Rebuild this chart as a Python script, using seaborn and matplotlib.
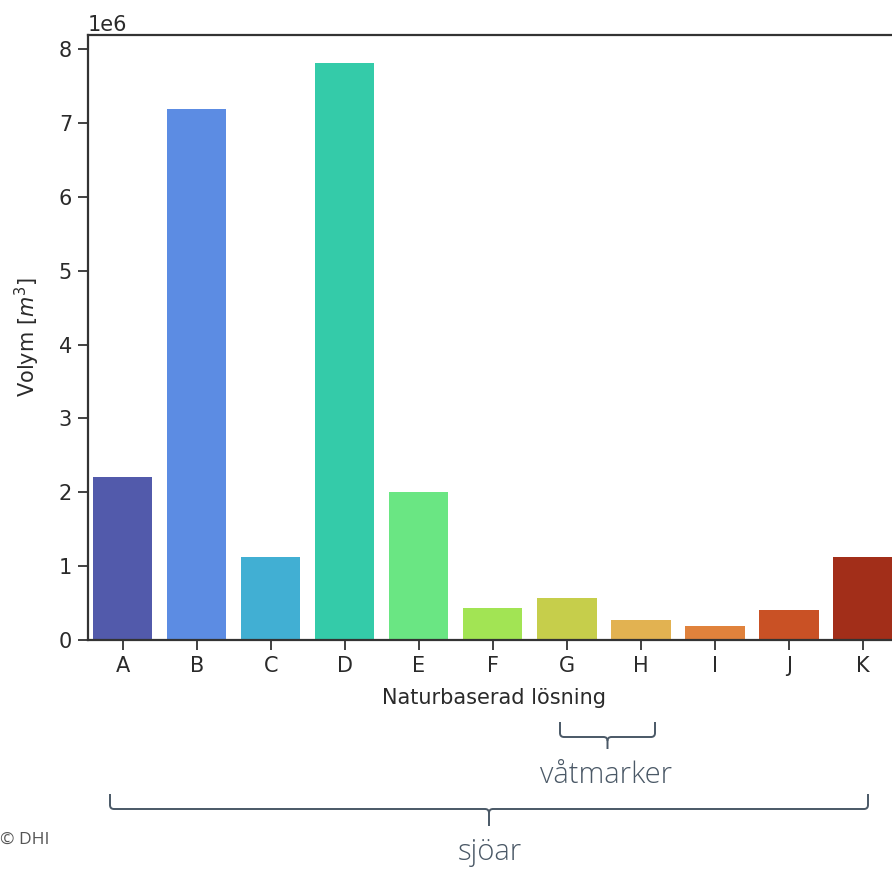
import matplotlib
matplotlib.use("Agg")
import matplotlib.pyplot as plt
import seaborn as sns
import pandas as pd
from matplotlib.path import Path
from matplotlib.patches import PathPatch

categories = ["A", "B", "C", "D", "E", "F", "G", "H", "I", "J", "K"]
volumes = [2.21e6, 7.19e6, 1.13e6, 7.81e6, 2.00e6, 0.43e6, 0.57e6, 0.27e6, 0.19e6, 0.40e6, 1.12e6]

df = pd.DataFrame({"Naturbaserad lösning": categories, "Volym": volumes})

W, H = 892, 869
fig = plt.figure(figsize=(W / 100, H / 100), dpi=100)
ax = fig.add_axes([88 / W, 1 - 640 / H, (900 - 88) / W, (640 - 35) / H])

sns.barplot(data=df, x="Naturbaserad lösning", y="Volym", hue="Naturbaserad lösning",
            palette="turbo", legend=False, ax=ax)
ax.set_xlim(-0.47, 10.5)
ax.set_ylim(0, 8.19e6)
tc = "#2a2a2a"
ax.set_ylabel("Volym [$m^3$]", fontsize=15, color=tc, labelpad=12)
ax.set_xlabel("Naturbaserad lösning", fontsize=15, color=tc, labelpad=9)
ax.tick_params(labelsize=15, length=7, width=1.3, colors="#333333", labelcolor=tc, pad=4.5)
ax.yaxis.get_offset_text().set_fontsize(15)
ax.yaxis.get_offset_text().set_color(tc)
for s in ax.spines.values():
    s.set_color("#333333")
    s.set_linewidth(1.6)

bc = "#4a5866"

def brace(x0, x1, ytop, ybar, ystem, r=4):
    xm = (x0 + x1) / 2
    P = lambda x, y: (x / W, 1 - y / H)
    verts = [P(x0, ytop), P(x0, ybar - r), P(x0, ybar), P(x0 + r, ybar),
             P(xm - r, ybar), P(xm, ybar), P(xm, ybar + r), P(xm, ystem)]
    codes = [Path.MOVETO, Path.LINETO, Path.CURVE3, Path.CURVE3,
             Path.LINETO, Path.CURVE3, Path.CURVE3, Path.LINETO]
    verts2 = [P(x1, ytop), P(x1, ybar - r), P(x1, ybar), P(x1 - r, ybar),
              P(xm + r, ybar), P(xm, ybar), P(xm, ybar + r)]
    codes2 = [Path.MOVETO, Path.LINETO, Path.CURVE3, Path.CURVE3,
              Path.LINETO, Path.CURVE3, Path.CURVE3]
    for v, c in ((verts, codes), (verts2, codes2)):
        fig.add_artist(PathPatch(Path(v, c), transform=fig.transFigure,
                                 fill=False, edgecolor=bc, lw=1.4))

brace(560, 655, 722, 737, 749)
brace(110, 868, 794, 809, 826)

fig.text(606 / W, 1 - 775 / H, "våtmarker", ha="center", va="center",
         fontsize=21, color=bc, family=["Open Sans", "DejaVu Sans"], fontweight="light")
fig.text(490 / W, 1 - 852 / H, "sjöar", ha="center", va="center",
         fontsize=21, color=bc, family=["Open Sans", "DejaVu Sans"], fontweight="light")
fig.text(0 / W, 1 - 840 / H, "© DHI", ha="left", va="center",
         fontsize=12.5, color="#555555", family=["Open Sans", "DejaVu Sans"])

fig.savefig("out.png", dpi=100)
